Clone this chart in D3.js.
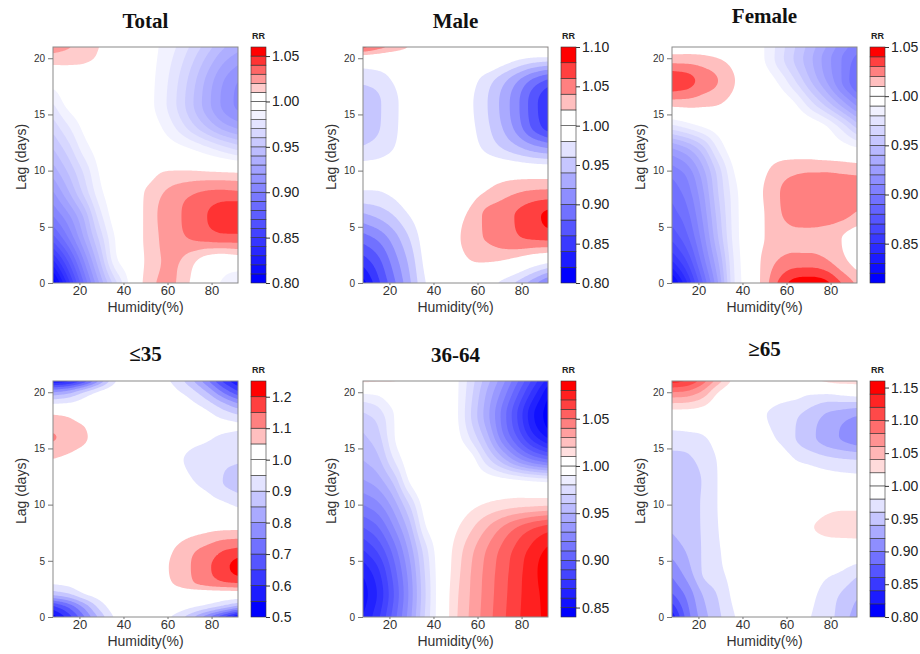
<!DOCTYPE html>
<html>
<head>
<meta charset="utf-8">
<script src="https://cdn.jsdelivr.net/npm/d3@7"></script>
<style>
  body { margin: 0; background: #fff; }
  svg { display: block; font-family: "Liberation Sans", Arial, sans-serif; }
</style>
</head>
<body>
<div id="chart"></div>
<script>
// grid columns (humidity, %) and rows (lag, days) the RR values were read at
const humidity = [8, 15, 22, 29, 36, 43, 50, 57, 64, 71, 78, 85, 92];
const lagRows = [0, 2, 4, 6, 8, 10, 12, 14, 16, 18, 20, 21];
const lagRowsYoung = [0, 1, 2, 3, 4.5, 6, 8, 10, 12, 14, 16, 17, 18, 19, 20, 21];
const xTicks = [20, 40, 60, 80];
const yTicks = [0, 5, 10, 15, 20];

// RR, one row per lag, one column per humidity value
const rrTotal = [
  [0.800, 0.845, 0.890, 0.930, 0.965, 0.993, 1.013, 1.021, 1.020, 1.008, 0.998, 0.988, 0.978],
  [0.838, 0.872, 0.910, 0.948, 0.986, 0.997, 1.011, 1.020, 1.021, 1.013, 1.004, 1.000, 1.002],
  [0.875, 0.900, 0.930, 0.962, 0.990, 0.998, 1.012, 1.021, 1.027, 1.031, 1.034, 1.036, 1.036],
  [0.900, 0.918, 0.942, 0.975, 0.995, 0.999, 1.012, 1.022, 1.028, 1.034, 1.040, 1.046, 1.049],
  [0.918, 0.938, 0.962, 0.986, 0.997, 1.000, 1.011, 1.019, 1.025, 1.029, 1.032, 1.033, 1.032],
  [0.935, 0.952, 0.972, 0.991, 0.998, 1.000, 1.003, 1.009, 1.010, 1.010, 1.009, 1.008, 1.007],
  [0.950, 0.966, 0.985, 0.995, 1.000, 1.000, 1.000, 0.998, 0.994, 0.989, 0.982, 0.974, 0.966],
  [0.965, 0.980, 0.993, 0.998, 1.000, 1.000, 0.997, 0.990, 0.978, 0.963, 0.948, 0.934, 0.925],
  [0.980, 0.994, 0.998, 1.000, 1.000, 1.000, 0.995, 0.985, 0.970, 0.952, 0.934, 0.918, 0.907],
  [0.996, 0.999, 1.000, 1.000, 1.000, 1.000, 0.995, 0.986, 0.972, 0.955, 0.937, 0.921, 0.910],
  [1.016, 1.015, 1.013, 1.008, 1.000, 0.999, 0.995, 0.988, 0.977, 0.963, 0.948, 0.934, 0.925],
  [1.025, 1.021, 1.016, 1.010, 1.002, 0.999, 0.995, 0.989, 0.980, 0.968, 0.955, 0.942, 0.934]
];
const rrMale = [
  [0.810, 0.855, 0.895, 0.935, 0.978, 0.995, 1.000, 1.000, 0.993, 0.974, 0.955, 0.928, 0.895],
  [0.850, 0.875, 0.910, 0.945, 0.985, 1.000, 1.010, 1.020, 1.022, 1.020, 1.012, 1.000, 0.990],
  [0.890, 0.905, 0.930, 0.960, 0.990, 1.000, 1.015, 1.030, 1.042, 1.050, 1.058, 1.063, 1.066],
  [0.935, 0.945, 0.960, 0.980, 0.995, 1.000, 1.012, 1.025, 1.045, 1.052, 1.062, 1.074, 1.085],
  [0.977, 0.978, 0.985, 0.997, 1.000, 1.000, 1.003, 1.012, 1.022, 1.032, 1.040, 1.045, 1.047],
  [0.988, 0.990, 0.995, 1.000, 1.000, 1.000, 1.000, 1.001, 1.003, 1.004, 1.003, 1.001, 1.000],
  [0.962, 0.968, 0.980, 0.995, 1.000, 1.000, 1.000, 0.990, 0.975, 0.960, 0.945, 0.930, 0.920],
  [0.948, 0.958, 0.975, 0.992, 1.000, 1.000, 1.000, 0.985, 0.965, 0.940, 0.910, 0.875, 0.848],
  [0.945, 0.957, 0.975, 0.990, 1.000, 1.000, 1.000, 0.983, 0.962, 0.935, 0.905, 0.870, 0.842],
  [0.965, 0.970, 0.982, 0.995, 1.000, 1.000, 1.000, 0.988, 0.970, 0.948, 0.922, 0.895, 0.875],
  [1.005, 1.003, 1.000, 1.000, 1.000, 1.000, 1.000, 1.000, 1.000, 0.995, 0.985, 0.978, 0.975],
  [1.070, 1.050, 1.035, 1.020, 1.005, 1.000, 1.000, 1.000, 1.000, 1.000, 1.005, 1.015, 1.025]
];
const rrFemale = [
  [0.815, 0.850, 0.890, 0.930, 0.978, 0.998, 1.015, 1.033, 1.045, 1.047, 1.043, 1.030, 1.018],
  [0.850, 0.872, 0.905, 0.940, 0.980, 0.999, 1.013, 1.021, 1.024, 1.024, 1.021, 1.013, 1.005],
  [0.872, 0.888, 0.915, 0.950, 0.983, 0.999, 1.010, 1.015, 1.017, 1.017, 1.015, 1.010, 1.003],
  [0.885, 0.897, 0.922, 0.955, 0.984, 0.999, 1.010, 1.019, 1.024, 1.025, 1.025, 1.023, 1.018],
  [0.893, 0.905, 0.928, 0.960, 0.985, 1.000, 1.011, 1.020, 1.025, 1.027, 1.027, 1.026, 1.024],
  [0.905, 0.915, 0.937, 0.965, 0.990, 1.000, 1.008, 1.015, 1.018, 1.019, 1.019, 1.018, 1.017],
  [0.930, 0.940, 0.957, 0.982, 0.997, 1.000, 1.002, 1.003, 1.003, 1.002, 0.999, 0.996, 0.991],
  [0.978, 0.985, 0.992, 0.997, 1.000, 1.000, 1.000, 1.000, 1.000, 0.997, 0.990, 0.975, 0.955],
  [1.015, 1.015, 1.013, 1.011, 1.006, 1.000, 1.000, 0.998, 0.990, 0.973, 0.955, 0.935, 0.915],
  [1.037, 1.034, 1.026, 1.020, 1.011, 1.000, 0.997, 0.987, 0.970, 0.950, 0.930, 0.910, 0.890],
  [1.014, 1.014, 1.013, 1.010, 1.005, 0.997, 0.990, 0.974, 0.958, 0.942, 0.925, 0.910, 0.897],
  [1.003, 1.003, 1.002, 1.000, 1.000, 0.995, 0.990, 0.975, 0.960, 0.945, 0.930, 0.915, 0.905]
];
const rrAge35 = [ // rows follow lagRowsYoung
  [0.520, 0.620, 0.740, 0.860, 0.955, 0.990, 1.000, 0.975, 0.930, 0.860, 0.760, 0.650, 0.530],
  [0.650, 0.720, 0.820, 0.920, 0.980, 1.000, 1.000, 0.990, 0.985, 0.965, 0.940, 0.900, 0.850],
  [0.860, 0.890, 0.945, 0.975, 0.990, 1.000, 1.000, 1.000, 1.000, 1.000, 1.000, 1.000, 1.000],
  [0.955, 0.965, 0.985, 0.995, 1.000, 1.000, 1.000, 1.020, 1.060, 1.095, 1.120, 1.140, 1.150],
  [1.000, 1.000, 1.000, 1.000, 1.000, 1.000, 1.005, 1.030, 1.070, 1.102, 1.140, 1.180, 1.225],
  [1.000, 1.000, 1.000, 1.000, 1.000, 1.000, 1.003, 1.020, 1.056, 1.090, 1.115, 1.145, 1.160],
  [0.990, 1.000, 1.000, 1.000, 1.000, 1.000, 1.000, 1.000, 1.010, 1.020, 1.030, 1.035, 1.035],
  [0.955, 0.990, 1.000, 1.000, 1.000, 1.000, 1.000, 1.000, 1.000, 0.990, 0.980, 0.962, 0.940],
  [0.990, 1.000, 1.000, 1.000, 1.000, 1.000, 1.000, 1.000, 0.985, 0.955, 0.932, 0.900, 0.880],
  [1.048, 1.035, 1.015, 1.000, 1.000, 1.000, 1.000, 1.000, 0.965, 0.935, 0.920, 0.910, 0.905],
  [1.105, 1.085, 1.060, 1.020, 1.000, 1.000, 1.000, 1.000, 0.995, 0.975, 0.960, 0.940, 0.930],
  [1.085, 1.070, 1.050, 1.010, 1.000, 1.000, 1.000, 1.000, 1.000, 0.990, 0.980, 0.970, 0.960],
  [1.052, 1.040, 1.015, 1.000, 1.000, 1.000, 1.000, 1.000, 1.000, 0.990, 0.965, 0.930, 0.900],
  [0.945, 0.955, 0.975, 0.990, 1.000, 1.000, 1.000, 1.000, 0.990, 0.960, 0.920, 0.860, 0.800],
  [0.800, 0.830, 0.900, 0.960, 0.990, 1.000, 1.000, 0.990, 0.960, 0.920, 0.850, 0.750, 0.660],
  [0.550, 0.580, 0.660, 0.800, 0.940, 0.990, 1.000, 0.970, 0.930, 0.860, 0.760, 0.640, 0.550]
];
const rrAge3664 = [
  [0.860, 0.878, 0.905, 0.935, 0.970, 0.997, 1.018, 1.032, 1.045, 1.057, 1.068, 1.077, 1.082],
  [0.855, 0.872, 0.900, 0.932, 0.968, 0.997, 1.017, 1.031, 1.044, 1.056, 1.067, 1.077, 1.083],
  [0.862, 0.878, 0.905, 0.935, 0.970, 0.997, 1.015, 1.030, 1.043, 1.055, 1.066, 1.077, 1.086],
  [0.880, 0.893, 0.915, 0.943, 0.975, 0.998, 1.013, 1.027, 1.040, 1.052, 1.063, 1.073, 1.082],
  [0.900, 0.910, 0.930, 0.955, 0.988, 1.000, 1.008, 1.018, 1.029, 1.040, 1.050, 1.058, 1.064],
  [0.920, 0.928, 0.945, 0.970, 0.995, 1.000, 1.002, 1.007, 1.011, 1.014, 1.016, 1.017, 1.018],
  [0.938, 0.945, 0.962, 0.990, 1.000, 1.000, 1.000, 1.000, 0.999, 0.997, 0.995, 0.992, 0.990],
  [0.950, 0.958, 0.980, 0.997, 1.000, 1.000, 1.000, 0.995, 0.975, 0.955, 0.935, 0.920, 0.910],
  [0.958, 0.967, 0.989, 1.000, 1.000, 1.000, 0.995, 0.978, 0.955, 0.925, 0.900, 0.875, 0.858],
  [0.968, 0.975, 0.990, 1.000, 1.000, 1.000, 0.993, 0.970, 0.945, 0.918, 0.890, 0.862, 0.845],
  [0.992, 0.994, 1.000, 1.000, 1.000, 1.000, 0.993, 0.973, 0.950, 0.928, 0.903, 0.877, 0.853],
  [1.013, 1.012, 1.011, 1.008, 1.000, 1.000, 0.993, 0.975, 0.955, 0.935, 0.912, 0.888, 0.865]
];
const rrAge65 = [
  [0.825, 0.890, 0.930, 0.955, 0.978, 0.995, 1.000, 1.000, 0.995, 0.980, 0.970, 0.950, 0.930],
  [0.877, 0.906, 0.941, 0.962, 0.985, 0.998, 1.000, 1.000, 0.995, 0.985, 0.972, 0.958, 0.943],
  [0.905, 0.930, 0.962, 0.975, 0.988, 1.000, 1.000, 1.000, 1.000, 0.993, 0.985, 0.979, 0.966],
  [0.928, 0.943, 0.962, 0.978, 0.990, 1.000, 1.000, 1.000, 1.000, 1.003, 1.005, 1.005, 1.005],
  [0.943, 0.952, 0.962, 0.980, 0.993, 1.000, 1.000, 1.000, 1.005, 1.018, 1.026, 1.028, 1.028],
  [0.948, 0.954, 0.962, 0.981, 0.995, 1.000, 1.000, 1.000, 1.000, 1.003, 1.012, 1.015, 1.015],
  [0.952, 0.955, 0.961, 0.981, 0.996, 1.000, 1.000, 1.000, 1.000, 0.998, 0.995, 0.992, 0.990],
  [0.955, 0.957, 0.966, 0.982, 0.997, 1.000, 1.000, 0.995, 0.980, 0.973, 0.966, 0.962, 0.960],
  [0.972, 0.974, 0.978, 0.990, 1.000, 1.000, 0.990, 0.975, 0.960, 0.945, 0.930, 0.918, 0.907],
  [1.006, 1.006, 1.004, 1.000, 1.000, 1.000, 0.982, 0.970, 0.963, 0.952, 0.938, 0.930, 0.922],
  [1.080, 1.075, 1.055, 1.020, 1.003, 1.000, 1.000, 0.995, 0.990, 0.985, 0.985, 0.990, 0.995],
  [1.130, 1.120, 1.090, 1.050, 1.015, 1.000, 1.000, 1.000, 1.000, 1.015, 1.025, 1.030, 1.030]
];

// contour levels: [lowest, highest, step]; colour key tick labels
const levelsTotal = [0.80, 1.06, 0.01];
const levelsMale = [0.80, 1.10, 0.02];
const levelsFemale = [0.81, 1.05, 0.01];
const levelsAge35 = [0.50, 1.25, 0.05];
const levelsAge3664 = [0.84, 1.09, 0.01];
const levelsAge65 = [0.80, 1.16, 0.02];
const keyTicksTotal = [0.80, 0.85, 0.90, 0.95, 1.00, 1.05];
const keyTicksMale = [0.80, 0.85, 0.90, 0.95, 1.00, 1.05, 1.10];
const keyTicksFemale = [0.85, 0.90, 0.95, 1.00, 1.05];
const keyTicksAge35 = [0.5, 0.6, 0.7, 0.8, 0.9, 1.0, 1.1, 1.2];
const keyTicksAge3664 = [0.85, 0.90, 0.95, 1.00, 1.05];
const keyTicksAge65 = [0.80, 0.85, 0.90, 0.95, 1.00, 1.05, 1.10, 1.15];

const panels = [
  {title: "Total",  rr: rrTotal,   lags: lagRows,      lev: levelsTotal,   keys: keyTicksTotal,   fmt: ".2f", col: 0, row: 0, ty: 28},
  {title: "Male",   rr: rrMale,    lags: lagRows,      lev: levelsMale,    keys: keyTicksMale,    fmt: ".2f", col: 1, row: 0, ty: 27.5},
  {title: "Female", rr: rrFemale,  lags: lagRows,      lev: levelsFemale,  keys: keyTicksFemale,  fmt: ".2f", col: 2, row: 0, ty: 23},
  {title: "\u226435", rr: rrAge35, lags: lagRowsYoung, lev: levelsAge35,   keys: keyTicksAge35,   fmt: ".1f", col: 0, row: 1, ty: 361},
  {title: "36-64",  rr: rrAge3664, lags: lagRows,      lev: levelsAge3664, keys: keyTicksAge3664, fmt: ".2f", col: 1, row: 1, ty: 362},
  {title: "\u226565", rr: rrAge65, lags: lagRows,      lev: levelsAge65,   keys: keyTicksAge65,   fmt: ".2f", col: 2, row: 1, ty: 356}
];

const plotLeft = [53, 363, 672], plotTop = [47, 381];
const W = 185, H = 236, NX = 140, NY = 170;

const svg = d3.select("#chart").append("svg")
  .attr("width", 920).attr("height", 654);

// piecewise monotone cubic (Fritsch-Carlson), used to resample the read grid
function monotone(xs, ys) {
  const n = xs.length, d = [], m = [];
  for (let k = 0; k < n - 1; k++) d[k] = (ys[k + 1] - ys[k]) / (xs[k + 1] - xs[k]);
  m[0] = d[0]; m[n - 1] = d[n - 2];
  for (let k = 1; k < n - 1; k++) m[k] = d[k - 1] * d[k] <= 0 ? 0 : (d[k - 1] + d[k]) / 2;
  for (let k = 0; k < n - 1; k++) {
    if (d[k] === 0) { m[k] = 0; m[k + 1] = 0; continue; }
    const a = m[k] / d[k], b = m[k + 1] / d[k], s = a * a + b * b;
    if (s > 9) { const t = 3 / Math.sqrt(s); m[k] = t * a * d[k]; m[k + 1] = t * b * d[k]; }
  }
  return function (x) {
    let k = Math.max(0, Math.min(n - 2, d3.bisectRight(xs, x) - 1));
    const h = xs[k + 1] - xs[k], t = (x - xs[k]) / h, t2 = t * t, t3 = t2 * t;
    return (2 * t3 - 3 * t2 + 1) * ys[k] + (t3 - 2 * t2 + t) * h * m[k] +
      (-2 * t3 + 3 * t2) * ys[k + 1] + (t3 - t2) * h * m[k + 1];
  };
}

// small box blur (edges clamped) to take the kinks out of the resampled field
function soften(v, nx, ny, r) {
  const tmp = new Float64Array(nx * ny), out = new Float64Array(nx * ny);
  for (let j = 0; j < ny; j++) for (let i = 0; i < nx; i++) {
    let s = 0;
    for (let t = -r; t <= r; t++) s += v[j * nx + Math.max(0, Math.min(nx - 1, i + t))];
    tmp[j * nx + i] = s / (2 * r + 1);
  }
  for (let j = 0; j < ny; j++) for (let i = 0; i < nx; i++) {
    let s = 0;
    for (let t = -r; t <= r; t++) s += tmp[Math.max(0, Math.min(ny - 1, j + t)) * nx + i];
    out[j * nx + i] = s / (2 * r + 1);
  }
  return out;
}

// blue -> white below 1, white -> red above 1
function bandColors(levels) {
  const n1 = levels.filter(v => v < 1 - 1e-9).length,
    n2 = levels.filter(v => v > 1 + 1e-9).length,
    c1 = d3.interpolateRgb("blue", "white"),
    c2 = d3.interpolateRgb("white", "red");
  return d3.range(n1).map(i => c1(i / (n1 - 1)))
    .concat(d3.range(n2).map(i => c2(i / (n2 - 1))));
}

panels.forEach(function (p, pi) {
  const x0 = plotLeft[p.col], y0 = plotTop[p.row];
  const g = svg.append("g").attr("transform", "translate(" + x0 + "," + y0 + ")");

  const x = d3.scaleLinear().domain([humidity[0], humidity[humidity.length - 1]]).range([0, W]);
  const y = d3.scaleLinear().domain([0, 21]).range([H, 0]);

  const nLev = Math.round((p.lev[1] - p.lev[0]) / p.lev[2]);
  const levels = d3.range(nLev + 1).map(i => +(p.lev[0] + i * p.lev[2]).toFixed(4));
  const colors = bandColors(levels);

  // resample the grid
  const h0 = humidity[0], h1 = humidity[humidity.length - 1];
  const hs = d3.range(NX).map(i => h0 + (h1 - h0) * i / (NX - 1));
  const ls = d3.range(NY).map(j => 21 * j / (NY - 1));
  const rows = p.rr.map(r => hs.map(monotone(humidity, r)));
  let values = new Float64Array(NX * NY);
  for (let i = 0; i < NX; i++) {
    const f = monotone(p.lags, rows.map(r => r[i]));
    for (let j = 0; j < NY; j++) values[j * NX + i] = f(ls[j]);
  }
  values = soften(soften(values, NX, NY, 1), NX, NY, 1);
  for (let q = 0; q < values.length; q++) {
    values[q] = Math.max(levels[0], Math.min(levels[nLev] - 1e-6, values[q]));
  }
  const contours = d3.contours().size([NX, NY]).thresholds(levels.slice(0, -1))(values);

  const proj = d3.geoTransform({
    point: function (cx, cy) {
      this.stream.point(x(h0 + (cx - 0.5) * (h1 - h0) / (NX - 1)), y((cy - 0.5) * 21 / (NY - 1)));
    }
  });
  const path = d3.geoPath(proj);

  const clipId = "clip" + pi;
  g.append("clipPath").attr("id", clipId)
    .append("rect").attr("width", W).attr("height", H);

  const field = g.append("g").attr("clip-path", "url(#" + clipId + ")");
  field.append("rect").attr("width", W).attr("height", H).attr("fill", colors[0]);
  field.selectAll("path")
    .data(contours)
    .join("path")
    .attr("d", path)
    .attr("fill", (d, i) => colors[i]);

  g.append("rect").attr("width", W).attr("height", H)
    .attr("fill", "none").attr("stroke", "#8a8a8a").attr("stroke-width", 1);

  // axes
  const gx = g.append("g").attr("transform", "translate(0," + H + ")")
    .call(d3.axisBottom(x).tickValues(xTicks).tickSize(2).tickPadding(1));
  gx.select(".domain").remove();
  gx.selectAll("text").attr("font-size", 13).attr("fill", "#333");
  gx.selectAll("line").attr("stroke", "#777");

  const gy = g.append("g")
    .call(d3.axisLeft(y).tickValues(yTicks).tickSize(5).tickPadding(3));
  gy.select(".domain").remove();
  gy.selectAll("text").attr("font-size", 10).attr("fill", "#333");
  gy.selectAll("line").attr("stroke", "#777");

  g.append("text")
    .attr("x", W / 2).attr("y", H + 29)
    .attr("text-anchor", "middle").attr("font-size", 14).attr("fill", "#333")
    .text("Humidity(%)");
  g.append("text")
    .attr("transform", "translate(-27," + (H / 2 - 8) + ") rotate(-90)")
    .attr("text-anchor", "middle").attr("font-size", 14).attr("fill", "#333")
    .text("Lag (days)");

  // title
  svg.append("text")
    .attr("x", x0 + W / 2).attr("y", p.ty)
    .attr("text-anchor", "middle")
    .style("font-family", '"Liberation Serif", "Times New Roman", serif')
    .attr("font-weight", "bold").attr("font-size", 21).attr("fill", "#111")
    .text(p.title);

  // colour key
  const k = d3.scaleLinear().domain([levels[0], levels[nLev]]).range([H, 0]);
  const key = g.append("g").attr("transform", "translate(" + (W + 13) + ",0)");
  key.selectAll("rect")
    .data(d3.range(nLev))
    .join("rect")
    .attr("x", 0).attr("width", 15)
    .attr("y", i => k(levels[i + 1]))
    .attr("height", i => k(levels[i]) - k(levels[i + 1]))
    .attr("fill", i => colors[i])
    .attr("stroke", "#333").attr("stroke-width", 0.6);
  const ka = key.append("g").attr("transform", "translate(15,0)")
    .call(d3.axisRight(k).tickValues(p.keys).tickSize(4).tickPadding(2).tickFormat(d3.format(p.fmt)));
  ka.select(".domain").remove();
  ka.selectAll("text").attr("font-size", 14).attr("fill", "#222");
  ka.selectAll("line").attr("stroke", "#333");
  key.append("text")
    .attr("x", 7.5).attr("y", -8.5)
    .attr("text-anchor", "middle").attr("font-size", 9).attr("font-weight", "bold").attr("fill", "#222")
    .text("RR");
});
</script>
</body>
</html>
